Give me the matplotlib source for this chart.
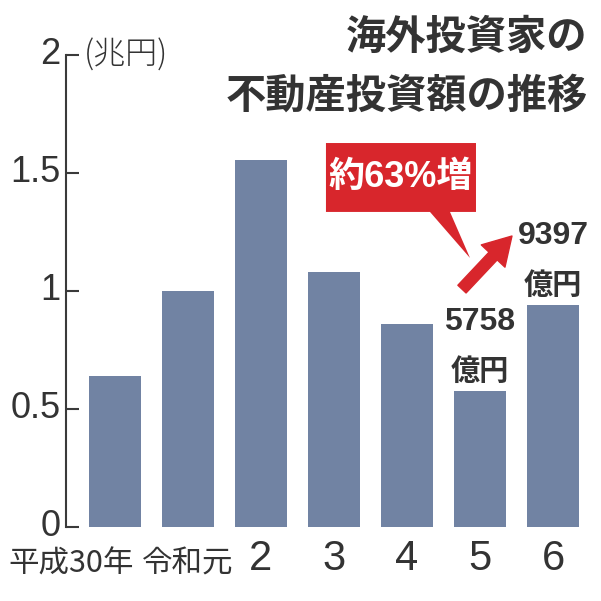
import matplotlib
matplotlib.use('Agg')
import matplotlib.pyplot as plt
from matplotlib.patches import Polygon, FancyArrowPatch
from matplotlib.transforms import ScaledTranslation

categories = ['平成30年', '令和元', '2', '3', '4', '5', '6']
values = [0.64, 1.00, 1.555, 1.08, 0.86, 0.5758, 0.9397]
yticks = [0, 0.5, 1, 1.5, 2]
ytick_labels = ['0', '0.5', '1', '1.5', '2']
value_labels = {5: '5758', 6: '9397'}
value_unit = '億円'
title_lines = ['海外投資家の', '不動産投資額の推移']
callout_text = '約63%増'
unit_label = '(兆円)'

NARROW = ['Liberation Sans Narrow', 'Liberation Sans', 'Noto Sans CJK JP', 'DejaVu Sans']
CJK = ['Noto Sans CJK JP', 'DejaVu Sans']
TXT = '#333333'
BAR = '#7183a3'
RED = '#d8262c'

fig = plt.figure(figsize=(6.01, 6.01), dpi=100)
ax = fig.add_axes([66/601, 1-527/601, 530/601, (527-55)/601])
x = list(range(len(values)))
ax.bar(x, values, width=0.7, color=BAR, zorder=2)
ax.set_xlim(-0.671, 6.589)
ax.set_ylim(0, 2)

for s in ['top', 'right', 'bottom']:
    ax.spines[s].set_visible(False)
ax.spines['left'].set_color('#3a3a3a')
ax.spines['left'].set_linewidth(1.5)

ax.set_yticks(yticks)
ax.set_yticklabels(ytick_labels, family=NARROW, fontsize=26, color=TXT)
ax.tick_params(axis='y', direction='in', length=9, width=1.5, color='#3a3a3a', pad=4)
for lab in ax.get_yticklabels():
    lab.set_transform(lab.get_transform() + ScaledTranslation(0, 5/100, fig.dpi_scale_trans))

ax.set_xticks(x)
ax.set_xticklabels(categories, family=NARROW, fontsize=30, color=TXT, va='center')
ax.tick_params(axis='x', length=0, pad=23)
xt = ax.get_xticklabels()
for i, lab in enumerate(xt):
    if not categories[i].isdigit():
        lab.set_fontsize(22)
        lab.set_family(CJK)
        dx = -44/100 if i == 0 else 0
        lab.set_transform(lab.get_transform() + ScaledTranslation(dx, -5/100, fig.dpi_scale_trans))

# unit label
ax.text(0.034, 1.0, unit_label, transform=ax.transAxes, family=CJK, fontsize=23,
        fontweight='light', color=TXT, ha='left', va='center')

# title
fig.text(0.978, 1-37/601, title_lines[0], family=CJK, fontsize=29, fontweight='bold',
         color=TXT, ha='right', va='center')
fig.text(0.978, 1-96/601, title_lines[1], family=CJK, fontsize=29, fontweight='bold',
         color=TXT, ha='right', va='center')

# value labels
for i, lab in value_labels.items():
    ax.annotate(lab, (i, values[i]), xytext=(0, 44), textcoords='offset points',
                ha='center', va='baseline', family=NARROW, fontsize=23,
                fontweight='bold', color=TXT)
    ax.annotate(value_unit, (i, values[i]), xytext=(0, 8), textcoords='offset points',
                ha='center', va='baseline', family=CJK, fontsize=21,
                fontweight='bold', color=TXT)

# callout
bx0, bx1, by0, by1 = 2.89, 4.945, 1.335, 1.627
callout = Polygon([(bx0, by0), (bx0, by1), (bx1, by1), (bx1, by0), (4.589, by0),
                   (4.863, 1.14), (4.315, by0)], closed=True, facecolor=RED,
                  edgecolor='none', zorder=3)
ax.add_patch(callout)
ax.text((bx0+bx1)/2, (by0+by1)/2, callout_text, family=NARROW, fontsize=26,
        fontweight='bold', color='white', ha='center', va='center', zorder=4)

arrow = FancyArrowPatch((4.753, 1.008), (5.438, 1.233),
                        arrowstyle='simple,head_width=1.3,head_length=1.1,tail_width=0.45',
                        mutation_scale=18, color=RED, zorder=4, shrinkA=0, shrinkB=0)
ax.add_patch(arrow)

fig.savefig('out.png', dpi=100)
